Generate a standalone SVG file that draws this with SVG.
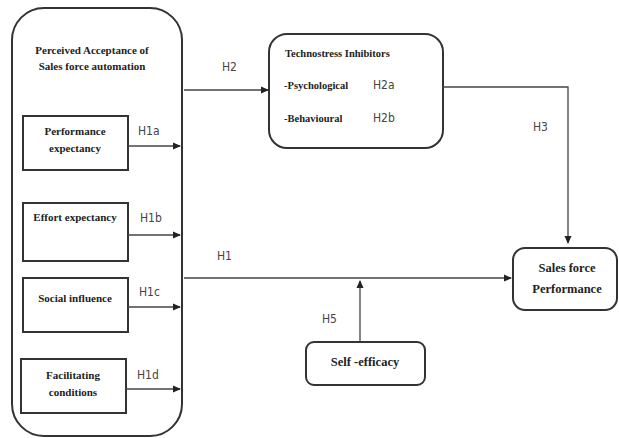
<svg xmlns="http://www.w3.org/2000/svg" width="619" height="438" viewBox="0 0 619 438">
<style>
.box{fill:#fff;stroke:#333;stroke-width:2}
.t{font-weight:bold;font-size:11px;fill:#222;text-anchor:middle}
.tb{font-weight:bold;font-size:12.5px;fill:#222;text-anchor:middle}
.tl{font-weight:bold;font-size:10.5px;fill:#222}
.h{font-size:12px;fill:#444}
.c{fill:none;stroke:#444;stroke-width:1.3}
</style>
<defs>
<marker id="a" markerWidth="8" markerHeight="8" refX="7" refY="4" orient="auto" markerUnits="userSpaceOnUse">
<path d="M0,0.5 L8,4 L0,7.5 Z" fill="#222"/>
</marker>
</defs>
<rect width="619" height="438" fill="#fff"/>
<g font-family="Liberation Serif, serif">
<g id="acceptance">
<rect class="box" x="12" y="8" width="170" height="428" rx="32"/>
<text class="t" x="92" y="54">Perceived Acceptance of</text>
<text class="t" x="92" y="70">Sales force  automation</text>
</g>
<g id="performance-expectancy">
<rect class="box" x="23" y="116" width="105" height="54"/>
<text class="t" x="75" y="135">Performance</text>
<text class="t" x="75" y="152">expectancy</text>
</g>
<g id="effort-expectancy">
<rect class="box" x="23" y="203" width="105" height="58"/>
<text class="t" x="75" y="221">Effort expectancy</text>
</g>
<g id="social-influence">
<rect class="box" x="23" y="278" width="105" height="54"/>
<text class="t" x="75" y="302">Social influence</text>
</g>
<g id="facilitating-conditions">
<rect class="box" x="21" y="359" width="105" height="54"/>
<text class="t" x="73" y="379">Facilitating</text>
<text class="t" x="73" y="396">conditions</text>
</g>
<g id="technostress">
<rect class="box" x="269" y="34" width="174" height="114" rx="18"/>
<text class="tl" x="285" y="57">Technostress Inhibitors</text>
<text class="tl" x="284" y="89">-Psychological</text>
<text class="h" x="373" y="89" font-family="DejaVu Sans Condensed, sans-serif">H2a</text>
<text class="tl" x="284" y="122">-Behavioural</text>
<text class="h" x="373" y="122" font-family="DejaVu Sans Condensed, sans-serif">H2b</text>
</g>
<g id="sales-force-performance">
<rect class="box" x="513" y="248" width="104" height="62" rx="12"/>
<text class="tb" x="567" y="272">Sales force</text>
<text class="tb" x="567" y="293">Performance</text>
</g>
<g id="self-efficacy">
<rect class="box" x="306" y="342" width="119" height="43" rx="8"/>
<text class="tb" x="365" y="366">Self -efficacy</text>
</g>
</g>
<g id="connectors" font-family="DejaVu Sans Condensed, sans-serif">
<path class="c" d="M128,146 H180" marker-end="url(#a)"/>
<path class="c" d="M128,235 H180" marker-end="url(#a)"/>
<path class="c" d="M128,307 H180" marker-end="url(#a)"/>
<path class="c" d="M126,389 H180" marker-end="url(#a)"/>
<path class="c" d="M184,90 H268" marker-end="url(#a)"/>
<path class="c" d="M443,87 H568 V243" marker-end="url(#a)"/>
<path class="c" d="M184,278 H511" marker-end="url(#a)"/>
<path class="c" d="M360,342 V281" marker-end="url(#a)"/>
<text class="h" x="138" y="135">H1a</text>
<text class="h" x="140" y="222">H1b</text>
<text class="h" x="139" y="296">H1c</text>
<text class="h" x="137" y="379">H1d</text>
<text class="h" x="222" y="71">H2</text>
<text class="h" x="533" y="131">H3</text>
<text class="h" x="217" y="260">H1</text>
<text class="h" x="322" y="323">H5</text>
</g>
</svg>
